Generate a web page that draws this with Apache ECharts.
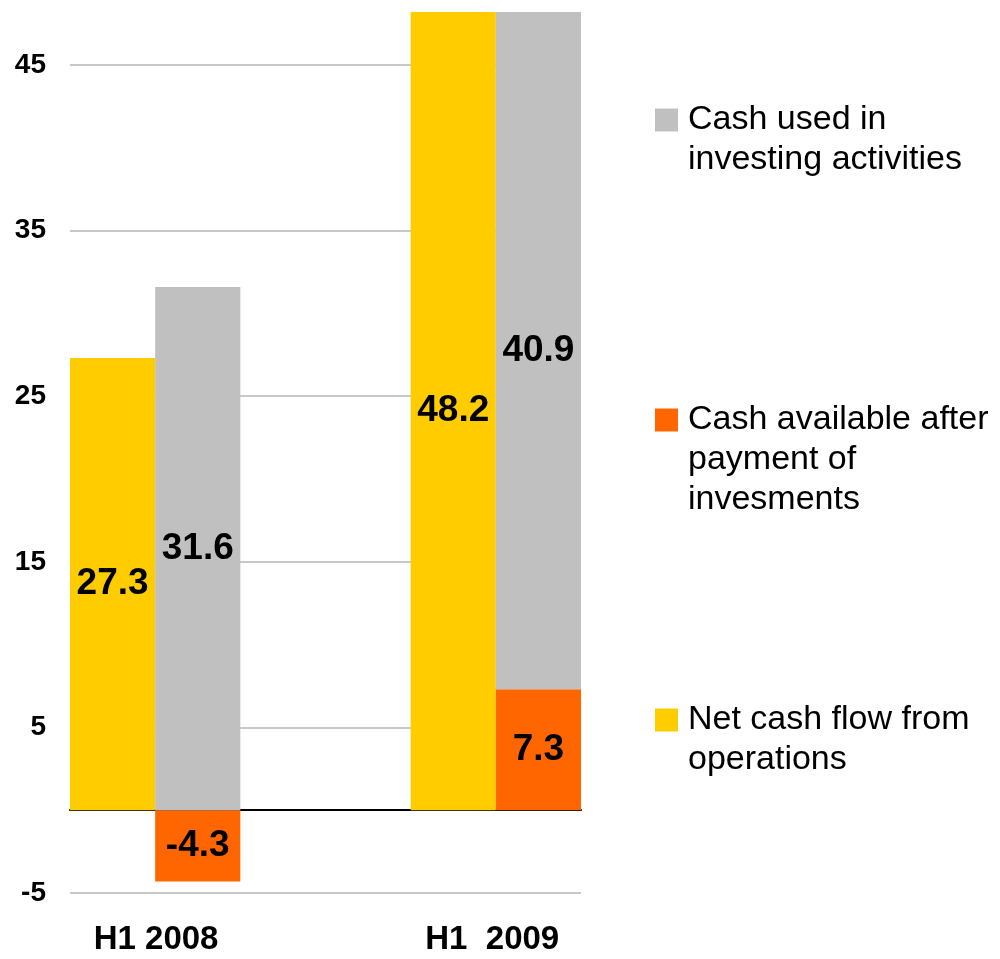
<!DOCTYPE html>
<html>
<head>
<meta charset="utf-8">
<title>Cash flow H1 2008 / H1 2009</title>
<script src="https://cdn.jsdelivr.net/npm/echarts@6/dist/echarts.min.js"></script>
<style>
  html, body { margin: 0; padding: 0; background: #fff; }
  #chart { width: 1000px; height: 959px; }
</style>
</head>
<body>
<div id="chart"></div>
<script>
// data
const periods = ['H1 2008', 'H1  2009'];
const netCashOps = [27.3, 48.2];      // Net cash flow from operations
const cashInvesting = [31.6, 40.9];   // Cash used in investing activities
const cashAvailable = [-4.3, 7.3];    // Cash available after payment of invesments
const yMin = -5;
const yMax = 48.2;
const yStep = 10;

const names = {
  invest: 'Cash used in investing activities',
  avail: 'Cash available after payment of invesments',
  ops: 'Net cash flow from operations'
};
const colors = { ops: '#FFCC00', invest: '#C0C0C0', avail: '#FF6600' };
const font = '"Liberation Sans", Arial, sans-serif';

// each period takes 4 slots: ops bar, stacked bar, then two empty slots
// (period 2 is shifted so its bars sit at slots 4 and 5)
const slotCount = 6;
const slotOf = [[0, 1], [4, 5]];
function slots(values, which) {
  const out = new Array(slotCount).fill('-');
  values.forEach((v, i) => { out[slotOf[i][which]] = v; });
  return out;
}
const slotNames = [];
for (let i = 0; i < slotCount; i++) slotNames.push('s' + i);

const chart = echarts.init(document.getElementById('chart'));

const barLabel = {
  show: true,
  position: 'inside',
  color: '#000',
  fontSize: 37,
  fontWeight: 'bold',
  fontFamily: font
};

function legendFor(name, text, top) {
  return {
    data: [name],
    orient: 'vertical',
    left: 655,
    top: top,
    padding: 0,
    itemWidth: 23,
    itemHeight: 23,
    itemGap: 10,
    icon: 'rect',
    selectedMode: false,
    formatter: () => text,
    textStyle: { fontSize: 34, lineHeight: 40, color: '#000', fontFamily: font, padding: [0, 0, 0, 5] }
  };
}

const option = {
  animation: false,
  backgroundColor: '#fff',
  textStyle: { fontFamily: font },
  grid: { left: 70, right: 419, top: 12, bottom: 66 },
  legend: [
    // blank lines in front keep the first text line level with the square
    legendFor(names.invest, '\nCash used in\ninvesting activities', 60),
    legendFor(names.avail, '\n\nCash available after\npayment of\ninvesments', 320),
    legendFor(names.ops, '\nNet cash flow from\noperations', 660)
  ],
  xAxis: {
    type: 'category',
    data: slotNames,
    axisLine: { onZero: true, lineStyle: { color: '#000', width: 2 } },
    axisTick: { show: false },
    axisLabel: {
      interval: 0,
      margin: 30,
      formatter: (v, i) => {
        if (i === slotOf[0][0]) return '{a|' + periods[0] + '}';
        if (i === slotOf[1][0]) return '{b|' + periods[1] + '}';
        return '';
      },
      rich: {
        a: { fontSize: 33, fontWeight: 'bold', color: '#000', fontFamily: font, padding: [0, 0, 0, 87] },
        b: { fontSize: 33, fontWeight: 'bold', color: '#000', fontFamily: font, padding: [0, 0, 0, 78] }
      }
    }
  },
  yAxis: {
    type: 'value',
    min: yMin,
    max: yMax,
    interval: yStep,
    axisLine: { show: false },
    axisTick: { show: false },
    axisLabel: {
      showMaxLabel: false,
      margin: 24,
      fontSize: 28,
      fontWeight: 'bold',
      color: '#000',
      fontFamily: font
    },
    splitLine: { showMaxLine: false, lineStyle: { color: '#c8c8c8', width: 2 } }
  },
  series: [
    {
      name: names.ops,
      type: 'bar',
      stack: 'all',
      barCategoryGap: '0%',
      data: slots(netCashOps, 0),
      itemStyle: { color: colors.ops },
      label: barLabel
    },
    {
      name: names.avail,
      type: 'bar',
      stack: 'all',
      barCategoryGap: '0%',
      data: slots(cashAvailable, 1),
      itemStyle: { color: colors.avail },
      label: barLabel
    },
    {
      name: names.invest,
      type: 'bar',
      stack: 'all',
      barCategoryGap: '0%',
      data: slots(cashInvesting, 1),
      itemStyle: { color: colors.invest },
      label: barLabel
    }
  ]
};

chart.setOption(option);
window.addEventListener('resize', () => chart.resize());
</script>
</body>
</html>
